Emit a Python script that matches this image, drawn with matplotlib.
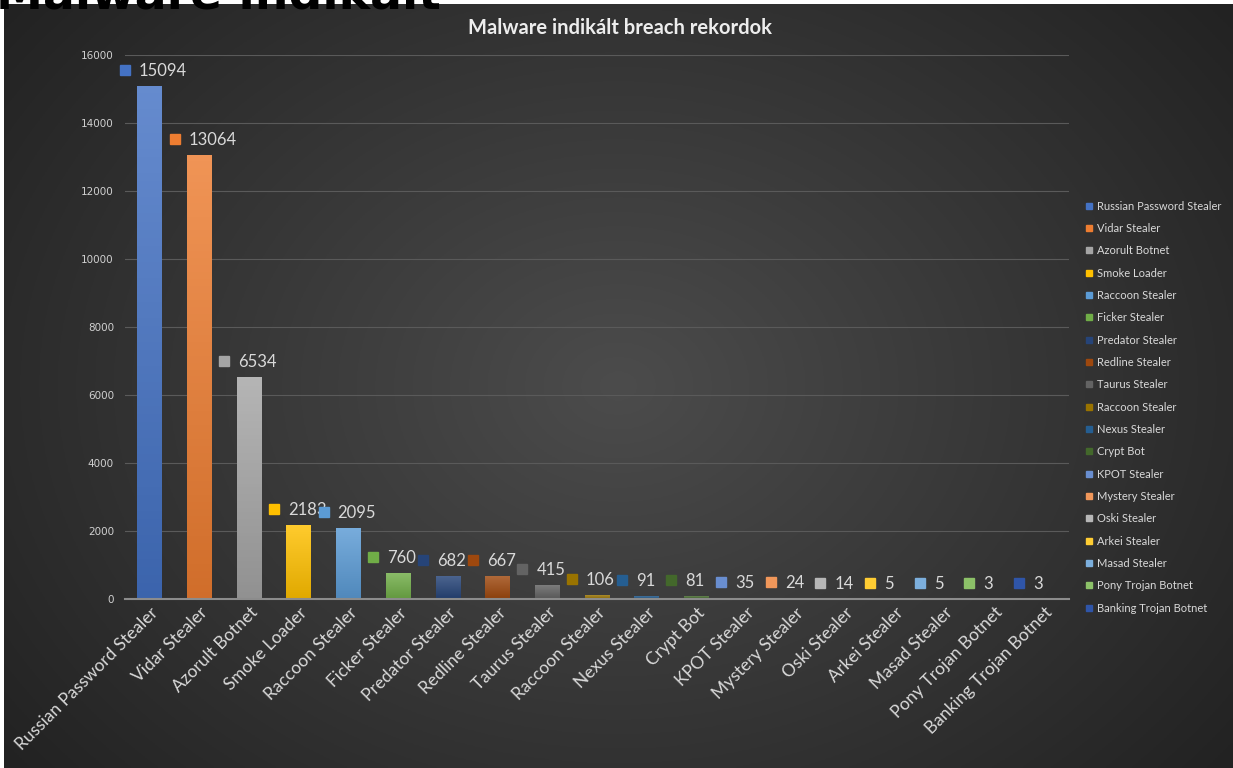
import numpy as np
import matplotlib
matplotlib.use("Agg")
import matplotlib.pyplot as plt
from matplotlib.colors import to_rgb
from matplotlib.lines import Line2D
import matplotlib.transforms as mtransforms

categories = ["Russian Password Stealer", "Vidar Stealer", "Azorult Botnet", "Smoke Loader",
              "Raccoon Stealer", "Ficker Stealer", "Predator Stealer", "Redline Stealer",
              "Taurus Stealer", "Raccoon Stealer", "Nexus Stealer", "Crypt Bot", "KPOT Stealer",
              "Mystery Stealer", "Oski Stealer", "Arkei Stealer", "Masad Stealer",
              "Pony Trojan Botnet", "Banking Trojan Botnet"]
values = [15094, 13064, 6534, 2183, 2095, 760, 682, 667, 415, 106, 91, 81, 35, 24, 14, 5, 5, 3, 3]
colors = ["#4472C4", "#ED7D31", "#A5A5A5", "#FFC000", "#5B9BD5", "#70AD47", "#264478",
          "#9E480E", "#636363", "#997300", "#255E91", "#43682B", "#698ED0", "#F1975A",
          "#B7B7B7", "#FFCD33", "#7CAFDD", "#8CC168", "#2F55A8"]
yticks = [0, 2000, 4000, 6000, 8000, 10000, 12000, 14000, 16000]
title = "Malware indikált breach rekordok"

W, H = 1233, 768
fig = plt.figure(figsize=(W / 100, H / 100), dpi=100, facecolor="white")

# background radial gradient
bg = fig.add_axes([4 / W, 0, 1 - 4 / W, 1 - 4 / H], zorder=0)
yy, xx = np.mgrid[0:1:300j, 0:1:480j]
d = np.sqrt(((xx - 0.5) * 1.25) ** 2 + ((yy - 0.5)) ** 2)
d = np.clip(d / 0.8, 0, 1)
c0 = np.array(to_rgb("#4c4c4c"))
c1 = np.array(to_rgb("#222222"))
img = c0[None, None, :] * (1 - d[..., None]) + c1[None, None, :] * d[..., None]
bg.imshow(img, aspect="auto", extent=[0, 1, 0, 1])
bg.set_axis_off()

ax = fig.add_axes([125 / W, 1 - 599 / H, (1069 - 125) / W, (599 - 55) / H], zorder=1)
ax.set_facecolor("none")
x = np.arange(len(values))
bars = ax.bar(x, values, width=0.5, color="none", zorder=3)

def mix(c, t, amt):
    c = np.array(to_rgb(c)); t = np.array(to_rgb(t))
    return c * (1 - amt) + t * amt

for b, c in zip(bars, colors):
    top = mix(c, "white", 0.18)
    bot = mix(c, "black", 0.12)
    g = np.linspace(0, 1, 64)[:, None, None]
    grad = top[None, None, :] * (1 - g) + bot[None, None, :] * g
    x0 = b.get_x(); w = b.get_width(); h = b.get_height()
    im = ax.imshow(grad, extent=[x0, x0 + w, 0, h], aspect="auto", zorder=3)
    im.set_clip_path(b)

ax.set_xlim(-0.5, len(values) - 0.5)
ax.set_ylim(0, 16000)
ax.set_yticks(yticks)
ax.set_yticklabels([str(v) for v in yticks], color="#d0d0d0", fontsize=7.5)
ax.tick_params(axis="y", length=0, pad=8)
ax.tick_params(axis="x", length=0, pad=4)
ax.set_xticks(x)
ax.set_xticklabels(categories, rotation=45, ha="right", rotation_mode="anchor",
                   color="#d9d9d9", fontsize=12.5, family="Lato")
ax.grid(axis="y", color="#5a5a5a", linewidth=0.8, zorder=0)
ax.set_axisbelow(True)
for s in ["top", "right", "left"]:
    ax.spines[s].set_visible(False)
ax.spines["bottom"].set_color("#8c8c8c")
ax.spines["bottom"].set_linewidth(1.5)
ax.spines["bottom"].set_zorder(4)

# data labels with legend keys
for xi, v, c in zip(x, values, colors):
    ax.plot([xi], [v], marker="s", markersize=7, color=c, linestyle="none",
            transform=ax.transData + mtransforms.ScaledTranslation(-25 / 100, 16 / 100, fig.dpi_scale_trans),
            zorder=5, clip_on=False)
    ax.annotate(str(v), (xi, v), xytext=(-11, 15), textcoords="offset pixels",
                ha="left", va="center", color="#d9d9d9", fontsize=12, family="Lato",
                zorder=5, annotation_clip=False)

fig.text(620 / W, 1 - 28 / H, title, ha="center", va="center", color="#ededed",
         fontsize=14.5, fontweight="bold", family="Lato")

handles = [Line2D([0], [0], marker="s", color=c, linestyle="none", markersize=5) for c in colors]
leg = fig.legend(handles, categories, loc="upper left", bbox_to_anchor=(1080 / W, 1 - 195 / H),
                 frameon=False, labelspacing=1.02, handlelength=0.6,
                 handletextpad=0.4, borderpad=0, prop={"family": "Lato", "size": 8})
for t in leg.get_texts():
    t.set_color("#d9d9d9")

# fragment of a large black heading that sits mostly above the picture's top edge
fig.text(-4 / W, 1 - 9 / H, "Malware indikált", ha="left", va="baseline",
         color="black", fontsize=34, fontweight="bold", zorder=10)

fig.savefig("out.png", dpi=100, facecolor="white")
